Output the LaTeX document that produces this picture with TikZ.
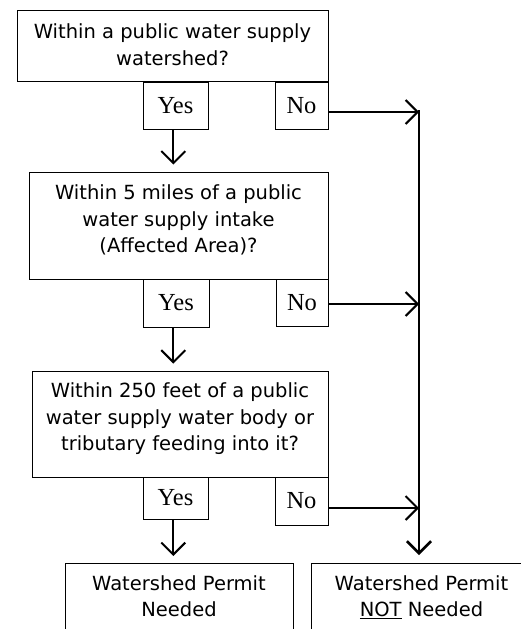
\documentclass[tikz,border=0pt]{standalone}
\usepackage{fontspec}
\setmainfont{Liberation Serif}
\newfontfamily\boxfont{DejaVu Sans}
\usetikzlibrary{arrows.meta}
\begin{document}
\begin{tikzpicture}[x=1pt,y=-1pt,
  box/.style={draw, line width=0.9pt, inner sep=0pt},
  qtext/.style={font=\boxfont\fontsize{19.5}{26.5}\selectfont, align=center, inner sep=0pt, anchor=north},
  yn/.style={draw, line width=0.9pt, inner sep=0pt, font=\fontsize{24.5}{28}\selectfont},
  arr/.style={line width=2pt, -{Straight Barb[length=12pt,width=24pt]}},
]
\clip (0,0) rectangle (521,629);
\fill[white] (0,0) rectangle (521,629);

% question boxes
\node[box, minimum width=311pt, minimum height=71pt] (b1) at (172.5,45.5) {};
\node[qtext] (t1) at ([yshift=-14pt]b1.north) {Within a public water supply\\watershed?};
\node[box, minimum width=299pt, minimum height=107pt] (b2) at (178.5,225.5) {};
\node[qtext] (t2) at ([yshift=-13pt]b2.north) {Within 5 miles of a public\\water supply intake\\(Affected Area)?};
\node[box, minimum width=296pt, minimum height=106pt] (b3) at (180,424) {};
\node[qtext] (t3) at ([yshift=-12pt]b3.north) {Within 250 feet of a public\\water supply water body or\\tributary feeding into it?};

% yes / no boxes
\node[yn, minimum width=65pt, minimum height=47pt] (y1) at (175.5,105.5) {Yes};
\node[yn, minimum width=53pt, minimum height=47pt] (n1) at (301.5,105.5) {No};
\node[yn, minimum width=66pt, minimum height=48pt] (y2) at (176,303) {Yes};
\node[yn, minimum width=52pt, minimum height=47pt] (n2) at (302,302.5) {No};
\node[yn, minimum width=65pt, minimum height=42pt] (y3) at (175.5,498) {Yes};
\node[yn, minimum width=53pt, minimum height=48pt] (n3) at (301.5,501) {No};

% result boxes (open at the bottom edge)
\node[box, minimum width=228pt, minimum height=100pt, anchor=north] (L) at (179,563) {};
\node[qtext] (Lt) at ([yshift=-12pt]L.north) {Watershed Permit\\Needed};
\node[box, minimum width=221pt, minimum height=100pt, anchor=north] (R) at (421.5,563) {};
\node[qtext] (Rt) at ([yshift=-12pt]R.north) {Watershed Permit\\\underline{NOT} Needed};

% collector line
\coordinate (vtop) at (419,110);
\draw[arr, line width=2.6pt, shorten >=8pt] (vtop) -- (vtop |- R.north);

% no arrows
\coordinate (n1o) at ([yshift=-6.5pt]n1.east);
\coordinate (n2o) at ([yshift=-1.5pt]n2.east);
\coordinate (n3o) at ([yshift=-7pt]n3.east);
\draw[arr] (n1o) -- (vtop |- n1o);
\draw[arr] (n2o) -- (vtop |- n2o);
\draw[arr] (n3o) -- (vtop |- n3o);

% yes arrows
\coordinate (y1o) at ([xshift=-2.2pt]y1.south);
\coordinate (y2o) at ([xshift=-2.7pt]y2.south);
\coordinate (y3o) at ([xshift=-2.2pt]y3.south);
\draw[arr, shorten >=7pt] (y1o) -- (y1o |- b2.north);
\draw[arr, shorten >=7pt] (y2o) -- (y2o |- b3.north);
\draw[arr, shorten >=7pt] (y3o) -- (y3o |- L.north);
\end{tikzpicture}
\end{document}
